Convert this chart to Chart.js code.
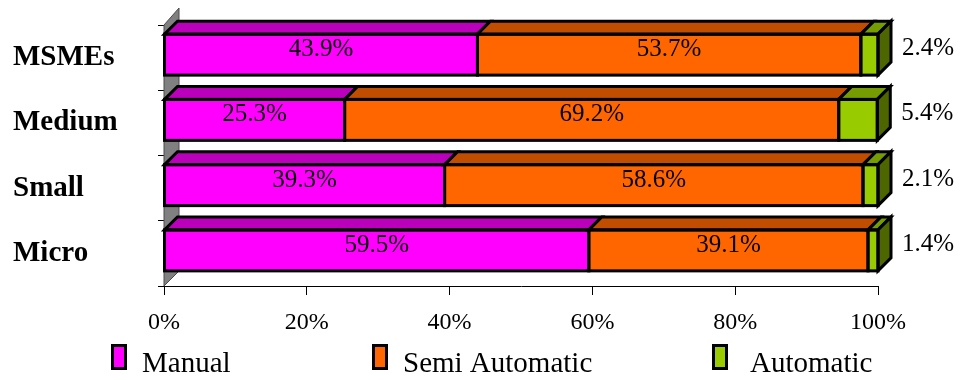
<!DOCTYPE html>
<html>
<head>
<meta charset="utf-8">
<script src="https://cdn.jsdelivr.net/npm/chart.js@4/dist/chart.umd.min.js"></script>
<style>
  html, body { margin: 0; padding: 0; background: #ffffff; }
  #wrap { width: 960px; height: 380px; }
</style>
</head>
<body>
<div id="wrap"><canvas id="c" width="960" height="380"></canvas></div>
<script>
// Enterprise size categories (top to bottom)
const categories = ['MSMEs', 'Medium', 'Small', 'Micro'];

// Share of each mode of operation, in percent
const seriesNames = ['Manual', 'Semi Automatic', 'Automatic'];
const manual = [43.9, 25.3, 39.3, 59.5];
const semiAutomatic = [53.7, 69.2, 58.6, 39.1];
const automatic = [2.4, 5.4, 2.1, 1.4];

// Percentage axis ticks
const xTicks = [0, 20, 40, 60, 80, 100];

// Face colours: front, top, side
const frontColors = ['#FF00FF', '#FF6600', '#99CC00'];
const topColors = ['#BB00BB', '#C04D00', '#759C00'];
const sideColors = ['#A000A0', '#9A3D00', '#4D6600'];

const SERIF = '"Liberation Serif", "Times New Roman", serif';
const DEPTH = 13;      // 3D extrusion offset in px
const SHIFT = -3;      // front faces sit slightly above the category centre

const seriesValues = [manual, semiAutomatic, automatic];

// Draws the grey side wall, the 3D top/side faces, outlines, value labels and legend
const bar3d = {
  id: 'bar3d',
  beforeDatasetsDraw(chart) {
    const ctx = chart.ctx;
    const a = chart.chartArea;
    const L = a.left;
    ctx.save();
    ctx.beginPath();
    ctx.moveTo(L, a.bottom);
    ctx.lineTo(L + DEPTH + 2, a.bottom - DEPTH - 2);
    ctx.lineTo(L + DEPTH + 2, a.top - DEPTH - 4);
    ctx.lineTo(L, a.top);
    ctx.closePath();
    ctx.fillStyle = '#808080';
    ctx.fill();
    ctx.strokeStyle = '#4a4a4a';
    ctx.lineWidth = 1;
    ctx.stroke();
    ctx.restore();
    ctx.save();
    ctx.translate(0, SHIFT);
  },
  afterDatasetsDraw(chart) {
    const ctx = chart.ctx;
    const n = chart.data.datasets.length;
    ctx.lineJoin = 'miter';
    ctx.lineWidth = 3;
    ctx.strokeStyle = '#000000';
    for (let i = 0; i < n; i++) {
      const meta = chart.getDatasetMeta(i);
      meta.data.forEach((el, j) => {
        const p = el.getProps(['x', 'y', 'base', 'height'], true);
        const Lx = Math.min(p.base, p.x), Rx = Math.max(p.base, p.x);
        const T = p.y - p.height / 2, B = p.y + p.height / 2;
        // top face
        ctx.beginPath();
        ctx.moveTo(Lx, T);
        ctx.lineTo(Lx + DEPTH, T - DEPTH);
        ctx.lineTo(Rx + DEPTH, T - DEPTH);
        ctx.lineTo(Rx, T);
        ctx.closePath();
        ctx.fillStyle = topColors[i];
        ctx.fill();
        ctx.stroke();
        // side face on the end of the stack
        if (i === n - 1) {
          ctx.beginPath();
          ctx.moveTo(Rx, T);
          ctx.lineTo(Rx + DEPTH, T - DEPTH);
          ctx.lineTo(Rx + DEPTH, B - DEPTH);
          ctx.lineTo(Rx, B);
          ctx.closePath();
          ctx.fillStyle = sideColors[i];
          ctx.fill();
          ctx.stroke();
        }
        // front outline
        ctx.strokeRect(Lx, T, Rx - Lx, B - T);
      });
    }
    // value labels
    ctx.fillStyle = '#000000';
    ctx.font = '25px ' + SERIF;
    ctx.textBaseline = 'middle';
    for (let i = 0; i < n; i++) {
      const meta = chart.getDatasetMeta(i);
      meta.data.forEach((el, j) => {
        const p = el.getProps(['x', 'y', 'base'], true);
        const v = chart.data.datasets[i].data[j];
        const txt = v.toFixed(1) + '%';
        if (i === n - 1) {
          ctx.textAlign = 'left';
          ctx.fillText(txt, p.x + 24, p.y - 6);
        } else {
          ctx.textAlign = 'center';
          ctx.fillText(txt, (p.x + p.base) / 2, p.y - 5);
        }
      });
    }
    ctx.restore();
  },
  afterDraw(chart) {
    const ctx = chart.ctx;
    const boxX = [111, 372, 712];
    const textX = [142, 403, 750];
    ctx.save();
    chart.data.datasets.forEach((ds, i) => {
      ctx.fillStyle = '#000000';
      ctx.fillRect(boxX[i], 344, 16, 26);
      ctx.fillStyle = ds.backgroundColor;
      ctx.fillRect(boxX[i] + 3, 347, 10, 20);
      ctx.fillStyle = '#000000';
      ctx.font = '29px ' + SERIF;
      ctx.textAlign = 'left';
      ctx.textBaseline = 'alphabetic';
      ctx.fillText(ds.label, textX[i], 372);
    });
    ctx.restore();
  }
};

const datasets = seriesValues.map((vals, i) => ({
  label: seriesNames[i],
  data: vals,
  backgroundColor: frontColors[i],
  borderWidth: 0,
  barThickness: 41
}));

new Chart(document.getElementById('c'), {
  type: 'bar',
  data: { labels: categories, datasets },
  plugins: [bar3d],
  options: {
    indexAxis: 'y',
    responsive: false,
    animation: false,
    devicePixelRatio: 1,
    layout: { padding: { left: 13, right: 82, top: 25, bottom: 0 } },
    plugins: { legend: { display: false }, tooltip: { enabled: false } },
    scales: {
      x: {
        stacked: true,
        min: 0,
        max: 100,
        afterBuildTicks(scale) { scale.ticks = xTicks.map(v => ({ value: v })); },
        afterFit(scale) { scale.height = 94; },
        ticks: {
          callback: v => v + '%',
          color: '#000000',
          font: { family: SERIF, size: 24 },
          padding: 13,
          maxRotation: 0
        },
        grid: { drawOnChartArea: false, drawTicks: true, tickLength: 9, color: '#000000' },
        border: { color: '#000000', width: 1 }
      },
      y: {
        stacked: true,
        afterFit(scale) { scale.width = 151; },
        ticks: {
          color: '#000000',
          crossAlign: 'far',
          font: { family: SERIF, size: 29, weight: 'bold' }
        },
        grid: { drawOnChartArea: false, drawTicks: true, tickLength: 6, color: '#000000', offset: true },
        border: { color: '#000000', width: 1 }
      }
    }
  }
});
</script>
</body>
</html>
